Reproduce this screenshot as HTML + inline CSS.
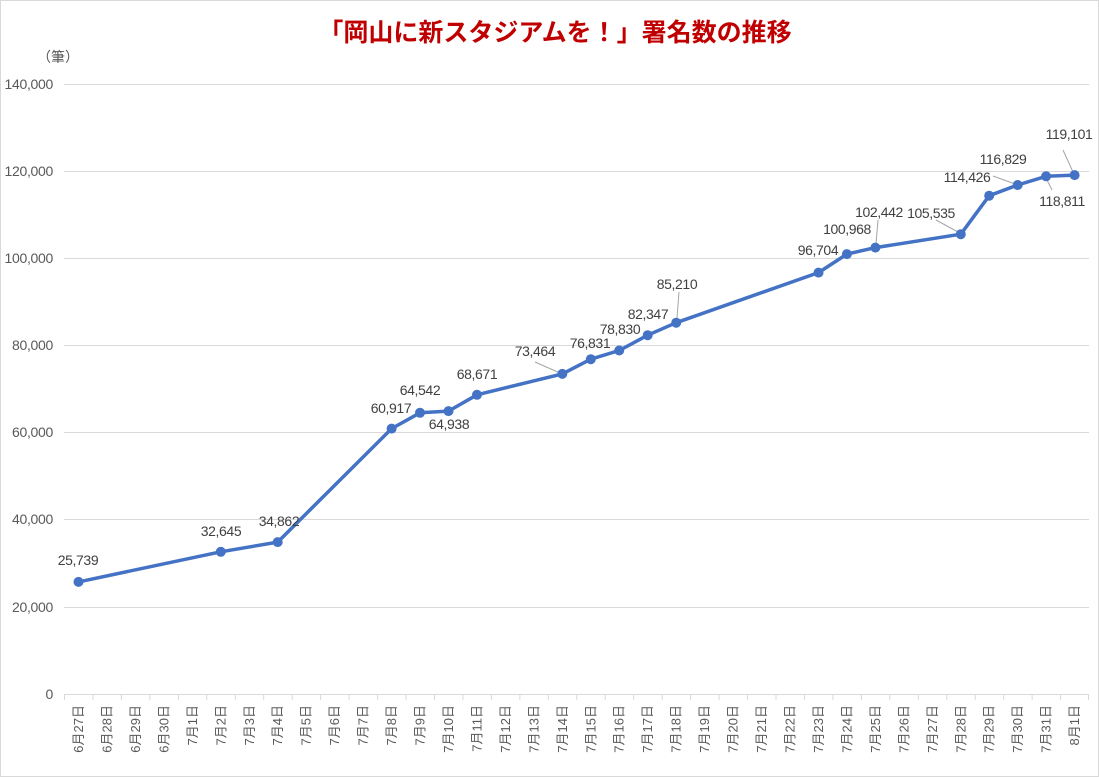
<!DOCTYPE html>
<html><head><meta charset="utf-8"><style>
html,body{margin:0;padding:0;background:#fff}
svg{display:block}
text{font-family:"Liberation Sans","Noto Sans CJK JP",sans-serif}
</style></head><body>
<svg width="1099" height="777" viewBox="0 0 1099 777" xmlns="http://www.w3.org/2000/svg">
<rect x="0.5" y="0.5" width="1098" height="776" fill="#fff" stroke="#d9d9d9"/>
<text x="555" y="41" text-anchor="middle" font-size="25" font-weight="bold" fill="#c00000" font-family="'Noto Sans CJK JP',sans-serif">「岡山に新スタジアムを！」署名数の推移</text>
<text x="37" y="62" font-size="14" fill="#595959" font-family="'Noto Sans CJK JP',sans-serif">（筆）</text>
<g stroke="#d9d9d9" stroke-width="1">
<line x1="64" y1="84.5" x2="1089" y2="84.5"/>
<line x1="64" y1="171.5" x2="1089" y2="171.5"/>
<line x1="64" y1="258.5" x2="1089" y2="258.5"/>
<line x1="64" y1="345.5" x2="1089" y2="345.5"/>
<line x1="64" y1="432.5" x2="1089" y2="432.5"/>
<line x1="64" y1="519.5" x2="1089" y2="519.5"/>
<line x1="64" y1="607.5" x2="1089" y2="607.5"/>
<line x1="64" y1="694.5" x2="1089" y2="694.5"/>
</g>
<g font-size="14" fill="#595959" text-anchor="end" letter-spacing="-0.3">
<text x="53" y="89">140,000</text>
<text x="53" y="176">120,000</text>
<text x="53" y="263">100,000</text>
<text x="53" y="350">80,000</text>
<text x="53" y="437">60,000</text>
<text x="53" y="524">40,000</text>
<text x="53" y="612">20,000</text>
<text x="53" y="699">0</text>
</g>
<g stroke="#d9d9d9" stroke-width="1">
<path d="M64.5 694v6M93 694v6M121.4 694v6M149.9 694v6M178.3 694v6M206.8 694v6M235.3 694v6M263.7 694v6M292.2 694v6M320.6 694v6M349.1 694v6M377.6 694v6M406 694v6M434.5 694v6M462.9 694v6M491.4 694v6M519.9 694v6M548.3 694v6M576.8 694v6M605.2 694v6M633.7 694v6M662.2 694v6M690.6 694v6M719.1 694v6M747.5 694v6M776 694v6M804.5 694v6M832.9 694v6M861.4 694v6M889.8 694v6M918.3 694v6M946.8 694v6M975.2 694v6M1003.7 694v6M1032.1 694v6M1060.6 694v6M1088.5 694v6"/>
</g>
<g font-size="13" fill="#595959" text-anchor="end" font-family="'Noto Sans CJK JP',sans-serif">
<text transform="translate(83,705) rotate(-90)">6月27日</text>
<text transform="translate(111.5,705) rotate(-90)">6月28日</text>
<text transform="translate(140,705) rotate(-90)">6月29日</text>
<text transform="translate(168.4,705) rotate(-90)">6月30日</text>
<text transform="translate(196.9,705) rotate(-90)">7月1日</text>
<text transform="translate(225.3,705) rotate(-90)">7月2日</text>
<text transform="translate(253.8,705) rotate(-90)">7月3日</text>
<text transform="translate(282.2,705) rotate(-90)">7月4日</text>
<text transform="translate(310.7,705) rotate(-90)">7月5日</text>
<text transform="translate(339.2,705) rotate(-90)">7月6日</text>
<text transform="translate(367.6,705) rotate(-90)">7月7日</text>
<text transform="translate(396.1,705) rotate(-90)">7月8日</text>
<text transform="translate(424.5,705) rotate(-90)">7月9日</text>
<text transform="translate(453,705) rotate(-90)">7月10日</text>
<text transform="translate(481.5,705) rotate(-90)">7月11日</text>
<text transform="translate(509.9,705) rotate(-90)">7月12日</text>
<text transform="translate(538.4,705) rotate(-90)">7月13日</text>
<text transform="translate(566.8,705) rotate(-90)">7月14日</text>
<text transform="translate(595.3,705) rotate(-90)">7月15日</text>
<text transform="translate(623.7,705) rotate(-90)">7月16日</text>
<text transform="translate(652.2,705) rotate(-90)">7月17日</text>
<text transform="translate(680.7,705) rotate(-90)">7月18日</text>
<text transform="translate(709.1,705) rotate(-90)">7月19日</text>
<text transform="translate(737.6,705) rotate(-90)">7月20日</text>
<text transform="translate(766,705) rotate(-90)">7月21日</text>
<text transform="translate(794.5,705) rotate(-90)">7月22日</text>
<text transform="translate(823,705) rotate(-90)">7月23日</text>
<text transform="translate(851.4,705) rotate(-90)">7月24日</text>
<text transform="translate(879.9,705) rotate(-90)">7月25日</text>
<text transform="translate(908.3,705) rotate(-90)">7月26日</text>
<text transform="translate(936.8,705) rotate(-90)">7月27日</text>
<text transform="translate(965.3,705) rotate(-90)">7月28日</text>
<text transform="translate(993.7,705) rotate(-90)">7月29日</text>
<text transform="translate(1022.2,705) rotate(-90)">7月30日</text>
<text transform="translate(1050.6,705) rotate(-90)">7月31日</text>
<text transform="translate(1079.1,705) rotate(-90)">8月1日</text>
</g>
<g stroke="#a6a6a6" stroke-width="1">
<line x1="535" y1="362" x2="560" y2="373"/>
<line x1="679" y1="292" x2="677" y2="318"/>
<line x1="878" y1="220" x2="876" y2="244"/>
<line x1="936" y1="220" x2="958" y2="232"/>
<line x1="993" y1="176" x2="1015" y2="184"/>
<line x1="1046" y1="178" x2="1052" y2="190"/>
<line x1="1063" y1="150" x2="1073" y2="172"/>
</g>
<polyline fill="none" stroke="#4472c4" stroke-width="3.5" stroke-linejoin="round" points="78.5,581.9 220.8,551.8 277.7,542.1 391.6,428.6 420,412.8 448.5,411.1 477,394.8 562.3,373.9 590.8,359.2 619.2,350.5 647.7,335.2 676.2,322.7 818.5,272.6 846.9,254.1 875.4,247.6 960.8,234.2 989.2,195.7 1017.7,185 1046.1,176.3 1074.6,175.1"/>
<g fill="#4472c4">
<circle cx="78.5" cy="581.9" r="5"/><circle cx="220.8" cy="551.8" r="5"/><circle cx="277.7" cy="542.1" r="5"/><circle cx="391.6" cy="428.6" r="5"/><circle cx="420" cy="412.8" r="5"/><circle cx="448.5" cy="411.1" r="5"/><circle cx="477" cy="394.8" r="5"/><circle cx="562.3" cy="373.9" r="5"/><circle cx="590.8" cy="359.2" r="5"/><circle cx="619.2" cy="350.5" r="5"/><circle cx="647.7" cy="335.2" r="5"/><circle cx="676.2" cy="322.7" r="5"/><circle cx="818.5" cy="272.6" r="5"/><circle cx="846.9" cy="254.1" r="5"/><circle cx="875.4" cy="247.6" r="5"/><circle cx="960.8" cy="234.2" r="5"/><circle cx="989.2" cy="195.7" r="5"/><circle cx="1017.7" cy="185" r="5"/><circle cx="1046.1" cy="176.3" r="5"/><circle cx="1074.6" cy="175.1" r="5"/>
</g>
<g font-size="14" fill="#404040" text-anchor="middle" letter-spacing="-0.4">
<text x="78" y="565">25,739</text>
<text x="221" y="536">32,645</text>
<text x="279" y="526">34,862</text>
<text x="391" y="413">60,917</text>
<text x="420" y="395">64,542</text>
<text x="449" y="429">64,938</text>
<text x="477" y="379">68,671</text>
<text x="535" y="356">73,464</text>
<text x="590" y="348">76,831</text>
<text x="620" y="334">78,830</text>
<text x="648" y="319">82,347</text>
<text x="677" y="289">85,210</text>
<text x="818" y="255">96,704</text>
<text x="847" y="234">100,968</text>
<text x="879" y="217">102,442</text>
<text x="931" y="218">105,535</text>
<text x="967" y="182">114,426</text>
<text x="1003" y="164">116,829</text>
<text x="1062" y="206">118,811</text>
<text x="1069" y="139">119,101</text>
</g>
</svg>
</body></html>
